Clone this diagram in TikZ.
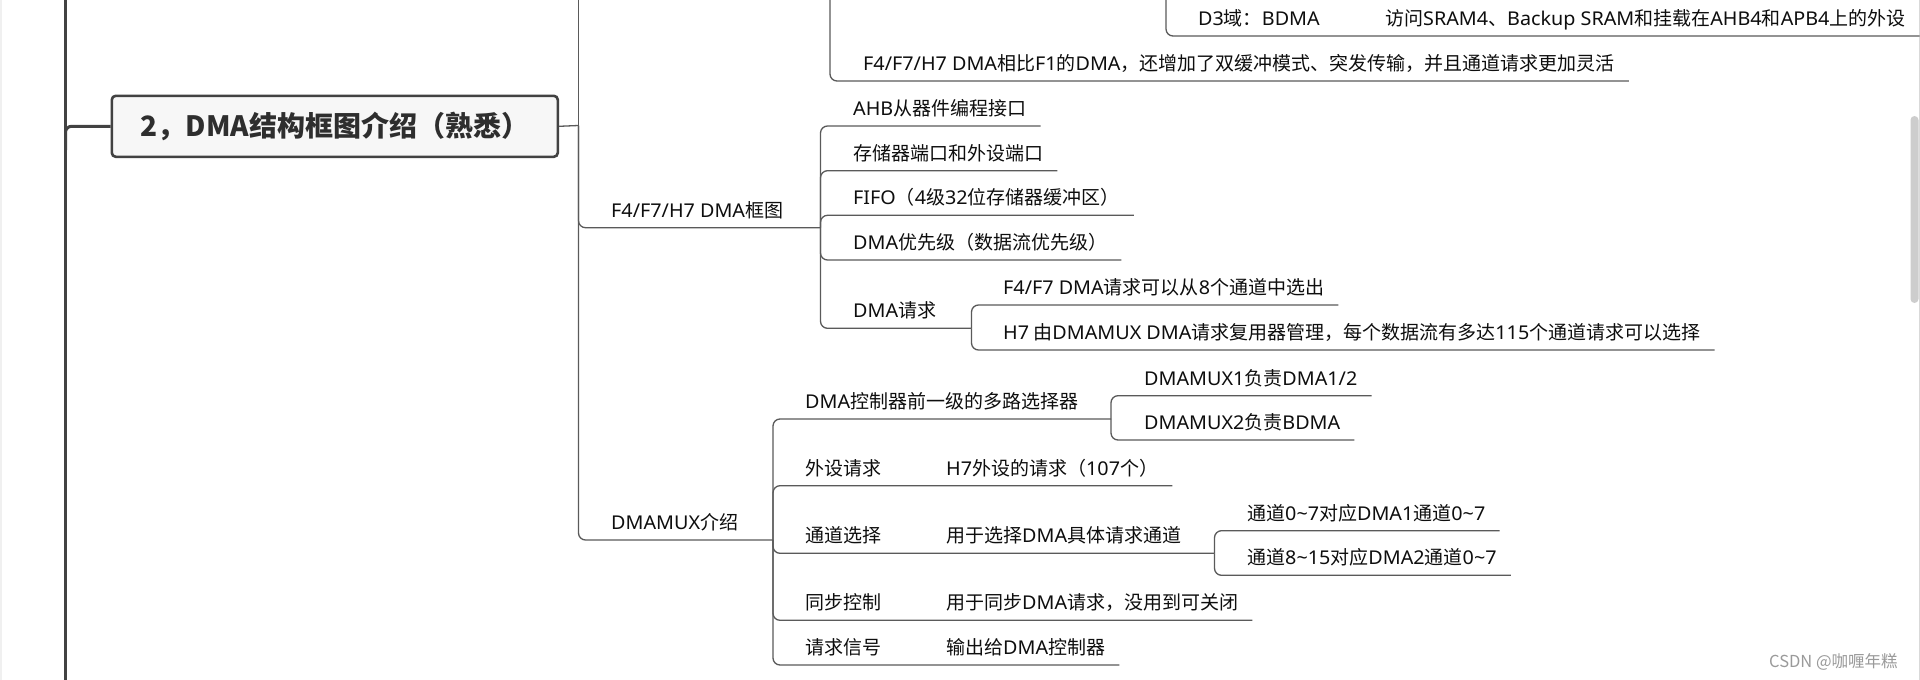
\documentclass[tikz,border=0pt]{standalone}
\usepackage{fontspec}
\setmainfont{Noto Sans CJK SC}
\newfontfamily\latf{Noto Sans}[FakeStretch=1.04]
\newcommand\la[1]{{\latf #1}}
\usetikzlibrary{calc}
\definecolor{lc}{HTML}{5A5A5A}
\definecolor{tc}{HTML}{0E0E0E}
\definecolor{rootborder}{HTML}{424242}
\definecolor{rootfill}{HTML}{F7F7F7}
\definecolor{roottext}{HTML}{2E2E2E}
\definecolor{edge}{HTML}{F0F0F0}
\definecolor{thumb}{HTML}{CDCDCD}
\definecolor{wm}{HTML}{9A9A9A}
\tikzset{
  conn/.style={draw=lc, line width=1.3pt, rounded corners=7pt},
  trunk/.style={draw=rootborder, line width=3pt, rounded corners=6pt},
  txt/.style={inner sep=0pt, anchor=base west, text=tc, font=\fontsize{19}{22}\selectfont},
  rootbox/.style={draw=rootborder, line width=2.6pt, fill=rootfill, rounded corners=4pt,
    minimum width=446pt, minimum height=61pt, inner sep=0pt, text=roottext,
    font=\fontsize{28}{32}\selectfont\bfseries},
}
% leaf: name, x, underline y, text
\newcommand\mmleaf[4]{%
  \node[txt] (#1) at (#2,#3-10.5) {#4};
  \path let \p1=(#1.base east) in coordinate (#1-e) at (\x1+14,#3);
}
% inner node: name, x, underline y, end x, text
\newcommand\mminner[5]{%
  \node[txt] (#1) at (#2,#3-10.5) {#5};
  \coordinate (#1-e) at (#4,#3);
}
\begin{document}
\begin{tikzpicture}[x=1pt,y=-1pt]
\useasboundingbox (0,0) rectangle (1920,680);
\fill[white] (0,0) rectangle (1920,680);
% window decorations
\fill[edge] (0,0) rectangle (2.2,680);
\draw[draw=edge!80!gray, line width=0.8pt] (1919.5,0) -- (1919.5,680);
\fill[thumb, rounded corners=4pt] (1910.5,116) rectangle (1918.5,303);

% trunk on the left
\coordinate (Ltop) at (65.5,-5);
\coordinate (Lbot) at (65.5,685);
\coordinate (Lj) at (65.5,150);
\draw[trunk] (Ltop) -- (Lbot);

% root
\node[rootbox, anchor=north west] (root) at (110.5,94.5) {2，DMA结构框图介绍（熟悉）};
\draw[trunk] (Lj) |- (root.west);

% top (partly cut) branches
\coordinate (tA) at (830,-10);
\coordinate (tB) at (1166,-10);
\coordinate (tC) at (578.5,-10);
\mmleaf{cmp}{863}{81}{\la{F4/F7/H7 DMA}相比\la{F1}的\la{DMA}，还增加了双缓冲模式、突发传输，并且通道请求更加灵活}
\mminner{d3}{1198}{36}{1352}{\la{D3}域：\la{BDMA}}
\mmleaf{d3c}{1385}{36}{访问\la{SRAM4}、\la{Backup SRAM}和挂载在\la{AHB4}和\la{APB4}上的外设}
\draw[conn] (tA) |- (cmp-e);
\draw[conn] (tB) |- (d3-e) -- (d3c-e);

% second level
\coordinate (r-e) at (578.5,125.5);
\draw[conn] (root.east) -- (r-e);
\draw[conn] (r-e) -- (tC);
\mminner{f4}{611}{227.7}{820.5}{\la{F4/F7/H7 DMA}框图}
\mminner{mux}{611}{540}{773}{\la{DMAMUX}介绍}
\draw[conn] (r-e) |- (f4-e);
\draw[conn] (r-e) |- (mux-e);

% F4/F7/H7 DMA block diagram
\mmleaf{ahb}{853}{126}{\la{AHB}从器件编程接口}
\mmleaf{mem}{853}{170.7}{存储器端口和外设端口}
\mmleaf{fifo}{853}{215.3}{\la{FIFO}（\la{4}级\la{32}位存储器缓冲区）}
\mmleaf{pri}{853}{260}{\la{DMA}优先级（数据流优先级）}
\mminner{req}{853}{328.3}{971.5}{\la{DMA}请求}
\foreach \c in {ahb,mem,fifo,pri,req} {\draw[conn] (f4-e) |- (\c-e);}
\mmleaf{reqa}{1003}{305}{\la{F4/F7 DMA}请求可以从\la{8}个通道中选出}
\mmleaf{reqb}{1003}{350}{\la{H7} 由\la{DMAMUX DMA}请求复用器管理，每个数据流有多达\la{115}个通道请求可以选择}
\draw[conn] (req-e) |- (reqa-e);
\draw[conn] (req-e) |- (reqb-e);

% DMAMUX
\mminner{sel}{805}{419}{1111}{\la{DMA}控制器前一级的多路选择器}
\mminner{per}{805}{485.7}{913}{外设请求}
\mminner{chs}{805}{553.3}{913}{通道选择}
\mminner{syn}{805}{620.3}{913}{同步控制}
\mminner{sig}{805}{665}{913}{请求信号}
\draw[conn] (mux-e) |- (sel-e);

\mmleaf{ma}{1144}{395.7}{\la{DMAMUX1}负责\la{DMA1/2}}
\mmleaf{mb}{1144}{440}{\la{DMAMUX2}负责\la{BDMA}}
\draw[conn] (sel-e) |- (ma-e);
\draw[conn] (sel-e) |- (mb-e);

\mmleaf{perc}{946}{485.7}{\la{H7}外设的请求（\la{107}个）}
\draw[conn] (mux-e) |- (per-e) -- (perc-e);

\mminner{chc}{946}{553.3}{1214.5}{用于选择\la{DMA}具体请求通道}
\draw[conn] (mux-e) |- (chs-e) -- (chc-e);
\mmleaf{ca}{1247}{530.7}{通道\la{0\textasciitilde 7}对应\la{DMA1}通道\la{0\textasciitilde 7}}
\mmleaf{cb}{1247}{575.3}{通道\la{8\textasciitilde 15}对应\la{DMA2}通道\la{0\textasciitilde 7}}
\draw[conn] (chc-e) |- (ca-e);
\draw[conn] (chc-e) |- (cb-e);

\mmleaf{sync}{946}{620.3}{用于同步\la{DMA}请求，没用到可关闭}
\draw[conn] (mux-e) |- (syn-e) -- (sync-e);
\mmleaf{sigc}{946}{665}{输出给\la{DMA}控制器}
\draw[conn] (mux-e) |- (sig-e) -- (sigc-e);

% watermark
\node[inner sep=0pt, anchor=base west, text=wm, font=\fontsize{16.5}{18}\selectfont] (wmk) at (1769,667) {CSDN @咖喱年糕};
\end{tikzpicture}
\end{document}
